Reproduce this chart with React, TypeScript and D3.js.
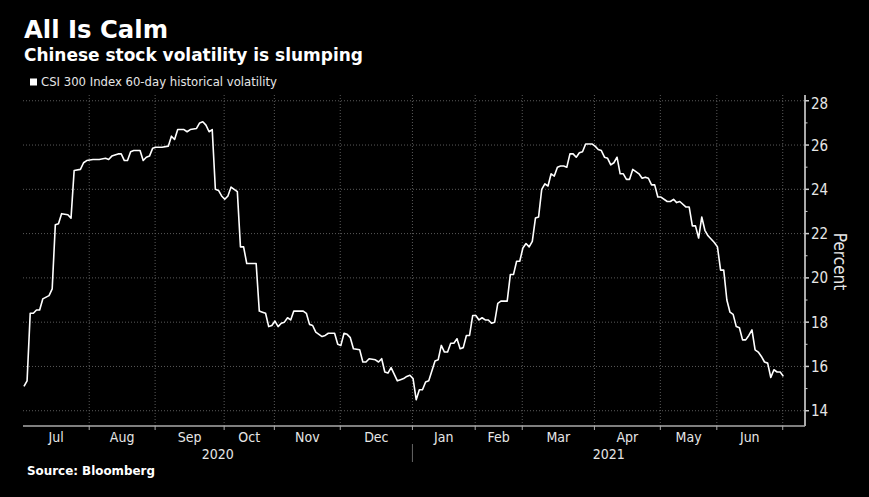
import React from "react";
import * as d3 from "d3";

// trading-day index (0 = first observation, early July 2020)
const tradingDay = [
  0, 1, 2, 3, 4, 5, 6, 8, 9, 10, 11, 12, 14, 15, 16, 18, 19, 20, 22, 24, 26, 27, 28, 30, 31, 32, 33, 34, 35, 37, 38, 39, 40,
  41, 42, 44, 46, 47, 48, 49, 51, 52, 53, 55, 56, 57, 58, 59, 60, 61, 62, 63, 64, 65, 66, 67, 68, 69, 70, 71, 74, 75, 76,
  77, 78, 79, 80, 81, 82, 83, 84, 85, 86, 87, 89, 90, 91, 92, 93, 95, 96, 97, 99, 100, 101, 102, 103, 104, 105, 107, 108,
  109, 110, 112, 113, 114, 115, 116, 117, 119, 120, 121, 122, 123, 124, 125, 126, 127, 128, 129, 131, 132, 133, 134, 135,
  136, 137, 138, 139, 140, 141, 142, 143, 144, 145, 146, 147, 148, 149, 150, 151, 152, 154, 155, 156, 157, 158, 159, 160,
  161, 162, 163, 164, 165, 166, 167, 168, 169, 170, 171, 172, 173, 174, 175, 176, 177, 178, 179, 180, 181, 182, 183, 184,
  185, 186, 187, 188, 189, 190, 191, 192, 193, 194, 195, 196, 197, 198, 199, 200, 201, 202, 203, 205, 206, 207, 208, 209,
  211, 212, 213, 214, 215, 216, 217, 218, 220, 221, 222, 223, 224, 225, 226, 227, 228, 229, 230, 231, 232, 233, 234, 235,
  236, 237, 238, 239, 240, 241, 242,
];
const volatility = [
  15.1, 15.35, 18.4, 18.4, 18.55, 18.55, 19.05, 19.2, 19.5, 22.4, 22.45, 22.9, 22.85, 22.7, 24.85, 24.9, 25.2, 25.3, 25.35,
  25.35, 25.4, 25.35, 25.5, 25.6, 25.6, 25.3, 25.3, 25.7, 25.75, 25.75, 25.3, 25.45, 25.5,
  25.85, 25.9, 25.9, 25.95, 26.4, 26.25, 26.7, 26.7, 26.6, 26.7, 26.75, 27.0, 27.05, 26.9, 26.6, 26.7, 24.0, 23.95, 23.7,
  23.55, 23.7, 24.1, 24.0, 23.9, 21.4, 21.4, 20.65, 20.65, 18.5, 18.45,
  18.4, 17.8, 17.85, 18.05, 17.8, 17.95, 18.0, 18.2, 18.1, 18.5, 18.5, 18.5, 18.4, 17.9, 17.85, 17.55, 17.35, 17.4, 17.5,
  17.5, 17.0, 16.95, 17.5, 17.45, 17.3, 16.8, 16.75, 16.2,
  16.2, 16.35, 16.3, 16.2, 16.35, 15.75, 15.7, 15.95, 15.35, 15.4, 15.45, 15.55, 15.6, 15.45, 14.5, 14.95, 14.95, 15.3,
  15.35, 16.25, 16.3, 16.95, 16.65, 16.65,
  17.05, 17.05, 17.25, 16.8, 16.85, 17.4, 17.4, 18.3, 18.3, 18.1, 18.2, 18.1, 18.1, 17.95, 18.0, 18.85, 18.95, 18.95, 20.15,
  20.15, 20.75, 20.75, 21.35, 21.55,
  21.4, 21.65, 22.7, 22.75, 24.0, 24.25, 24.15, 24.7, 24.6, 25.0, 25.05, 25.05, 25.0, 25.6, 25.6, 25.45, 25.65, 25.7, 26.05,
  26.05, 26.05, 25.95, 25.8, 25.75,
  25.45, 25.4, 25.1, 25.2, 25.45, 24.7, 24.7, 24.45, 24.45, 24.9, 24.8, 24.7, 24.5, 24.55, 24.5, 24.2, 24.2, 23.65, 23.65,
  23.45, 23.45, 23.55, 23.4, 23.45,
  23.2, 23.2, 22.35, 22.35, 21.8, 22.75, 22.15, 21.9, 21.6, 21.4, 20.35, 20.35, 19.0, 18.45, 18.35, 17.8, 17.75, 17.2, 17.2,
  17.4, 17.65, 16.75, 16.65, 16.45,
  16.2, 16.15, 15.5, 15.85, 15.75, 15.75, 15.55,
];

const monthLabels = ["Jul", "Aug", "Sep", "Oct", "Nov", "Dec", "Jan", "Feb", "Mar", "Apr", "May", "Jun"];
// trading-day index at which each following month begins (Aug 2020 ... Jul 2021)
const monthStarts = [21, 42, 64, 80, 101, 124, 144, 159, 182, 203, 221, 242];
const yearLabels = ["2020", "2021"];
const yearStart2021 = 124;
const yTicks = [14, 16, 18, 20, 22, 24, 26, 28];
const yMinorTicks = [15, 17, 19, 21, 23, 25, 27];

const W = 869;
const H = 497;
const left = 23;
const right = 805;
const top = 95;
const bottom = 426;

const FONT = "'DejaVu Sans Condensed', 'DejaVu Sans', sans-serif";
const BOLD = "'DejaVu Sans', sans-serif";

export default function App() {
  const x = d3.scaleLinear().domain([-0.3, 248.9]).range([left, right]);
  const y = d3.scaleLinear().domain([13.31, 28.26]).range([bottom, top]);

  const pts = tradingDay.map((d, i) => [d, volatility[i]] as [number, number]);
  const line = d3
    .line<[number, number]>()
    .x((d) => x(d[0]))
    .y((d) => y(d[1]));

  const bounds = monthStarts.map((m) => x(m - 0.2));
  const edges = [left, ...bounds];
  const monthCenters = monthLabels.map((_, i) => (edges[i] + edges[i + 1]) / 2);
  const sep = x(yearStart2021 - 0.2);
  const yearCenters = [(left + sep) / 2, (sep + right) / 2];

  return (
    <svg
      width={W}
      height={H}
      style={{ position: "absolute", left: 0, top: 0, background: "#000" }}
    >
      <rect x={0} y={0} width={W} height={H} fill="#000" />
      <text x={24} y={38} fill="#fff" fontFamily={BOLD} fontWeight="bold" fontSize={24} textLength={144} lengthAdjust="spacingAndGlyphs">
        All Is Calm
      </text>
      <text x={24} y={61} fill="#fff" fontFamily={BOLD} fontWeight="bold" fontSize={18.5} textLength={339} lengthAdjust="spacingAndGlyphs">
        Chinese stock volatility is slumping
      </text>
      <rect x={30} y={78.5} width={7} height={7} fill="#fff" />
      <text x={41} y={86} fill="#e6e6e6" fontFamily={FONT} fontSize={12} textLength={236} lengthAdjust="spacingAndGlyphs">
        CSI 300 Index 60-day historical volatility
      </text>

      {/* horizontal gridlines */}
      {yTicks.map((t) => (
        <line key={"h" + t} x1={left} x2={right} y1={y(t)} y2={y(t)} stroke="#5a5a5a" strokeWidth={1} strokeDasharray="1,2" />
      ))}
      {/* vertical gridlines */}
      {bounds.map((bx, i) => (
        <line key={"v" + i} x1={bx} x2={bx} y1={top} y2={bottom} stroke="#5a5a5a" strokeWidth={1} strokeDasharray="1,2" />
      ))}

      {/* axes */}
      <line x1={left} x2={right} y1={bottom} y2={bottom} stroke="#aaa" strokeWidth={1.5} />
      <line x1={right} x2={right} y1={top} y2={bottom} stroke="#aaa" strokeWidth={2} />
      {bounds.map((bx, i) => (
        <line key={"xt" + i} x1={bx} x2={bx} y1={bottom} y2={bottom + 4} stroke="#aaa" strokeWidth={1} />
      ))}
      {yTicks.map((t) => (
        <line key={"yt" + t} x1={right} x2={right + 4} y1={y(t)} y2={y(t)} stroke="#ccc" strokeWidth={1.5} />
      ))}
      {yMinorTicks.map((t) => (
        <line key={"ym" + t} x1={right} x2={right + 2.5} y1={y(t)} y2={y(t)} stroke="#ccc" strokeWidth={1} />
      ))}
      {yTicks.map((t) => (
        <text key={"yl" + t} x={811} y={Math.max(y(t) + 5.5, top + 14)} fill="#e6e6e6" fontFamily={FONT} fontSize={15}>
          {t}
        </text>
      ))}
      <text
        transform={`translate(834, ${(230 + 293) / 2}) rotate(90)`}
        textAnchor="middle"
        fill="#e6e6e6"
        fontFamily={FONT}
        fontSize={17}
      >
        Percent
      </text>

      {monthLabels.map((m, i) => (
        <text key={m + i} x={monthCenters[i]} y={442} textAnchor="middle" fill="#e6e6e6" fontFamily={FONT} fontSize={14}>
          {m}
        </text>
      ))}
      {yearLabels.map((yl, i) => (
        <text key={yl} x={yearCenters[i]} y={459} textAnchor="middle" fill="#e6e6e6" fontFamily={FONT} fontSize={14}>
          {yl}
        </text>
      ))}
      <line x1={sep} x2={sep} y1={444} y2={462} stroke="#666" strokeWidth={1} />

      <path d={line(pts) || ""} fill="none" stroke="#fff" strokeWidth={1.6} strokeLinejoin="round" />

      <text x={27} y={475} fill="#fff" fontFamily={BOLD} fontWeight="bold" fontSize={12.5} textLength={128} lengthAdjust="spacingAndGlyphs">
        Source: Bloomberg
      </text>
    </svg>
  );
}
